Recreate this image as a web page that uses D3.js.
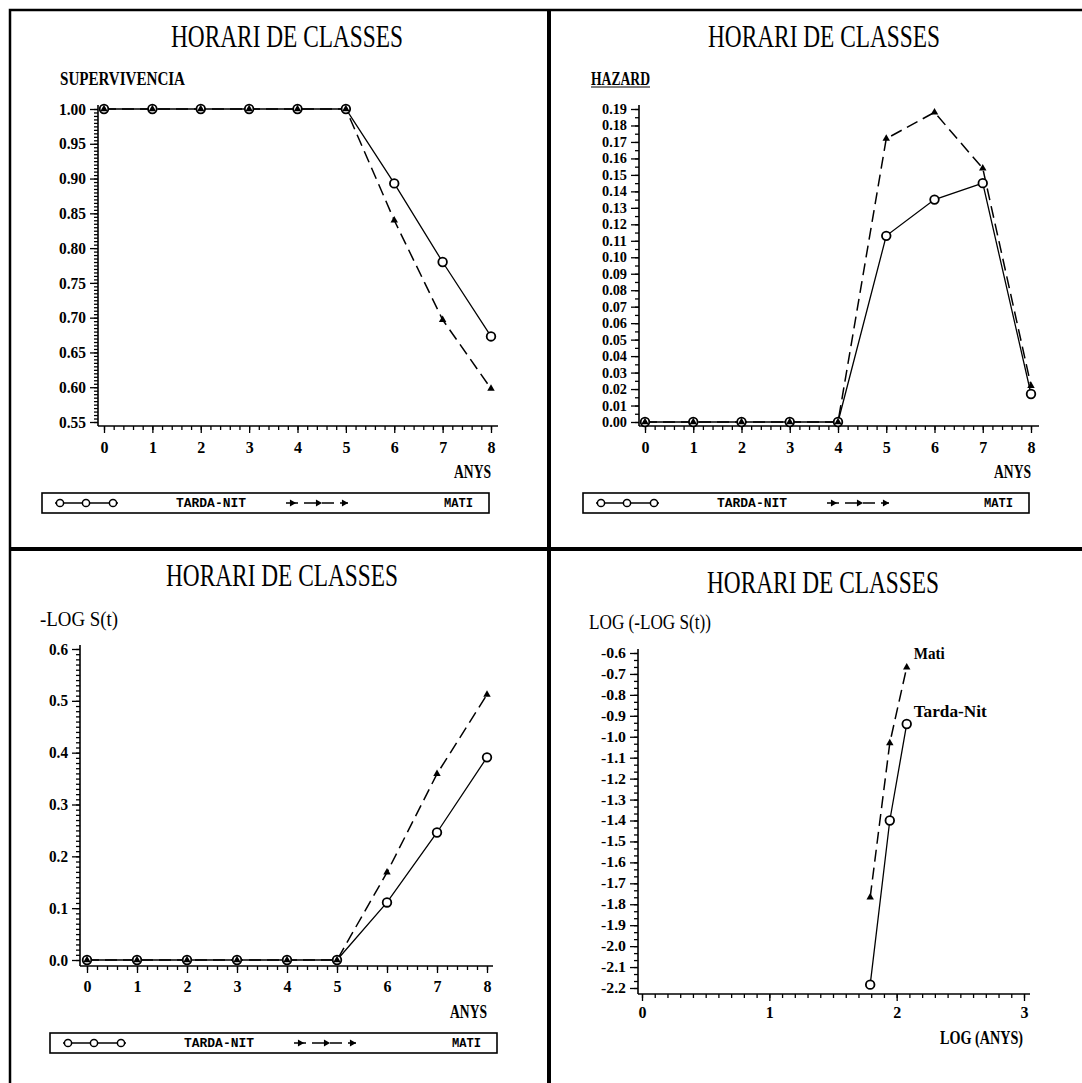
<!DOCTYPE html>
<html>
<head>
<meta charset="utf-8">
<script src="https://cdn.jsdelivr.net/npm/d3@7"></script>
<style>
  body { margin: 0; background: #fff; }
  svg { display: block; }
</style>
</head>
<body>
<script>

// anys
let years = [0, 1, 2, 3, 4, 5, 6, 7, 8]

// supervivencia
let survTarda = [1, 1, 1, 1, 1, 1, 0.893, 0.780, 0.673]
let survMati = [1, 1, 1, 1, 1, 1, 0.840, 0.697, 0.598]
let survTicks = [0.55, 0.60, 0.65, 0.70, 0.75, 0.80, 0.85, 0.90, 0.95, 1.00]

// hazard
let hazTarda = [0, 0, 0, 0, 0, 0.113, 0.135, 0.145, 0.017]
let hazMati = [0, 0, 0, 0, 0, 0.172, 0.188, 0.154, 0.022]
let hazTicks = [0, 0.01, 0.02, 0.03, 0.04, 0.05, 0.06, 0.07, 0.08, 0.09, 0.10,
                0.11, 0.12, 0.13, 0.14, 0.15, 0.16, 0.17, 0.18, 0.19]

// -log S(t)
let cumTarda = [0, 0, 0, 0, 0, 0, 0.111, 0.246, 0.391]
let cumMati = [0, 0, 0, 0, 0, 0, 0.169, 0.359, 0.512]
let cumTicks = [0, 0.1, 0.2, 0.3, 0.4, 0.5, 0.6]

// log(-log S(t)) contra log(anys)
let logYears = [1.792, 1.946, 2.079]
let llTarda = [-2.184, -1.400, -0.939]
let llMati = [-1.767, -1.030, -0.668]
let llTicks = [-2.2, -2.1, -2.0, -1.9, -1.8, -1.7, -1.6, -1.5, -1.4, -1.3, -1.2,
               -1.1, -1.0, -0.9, -0.8, -0.7, -0.6]
let logYearTicks = [0, 1, 2, 3]

let serif = "'Liberation Serif', 'DejaVu Serif', serif"
let mono = "'Liberation Mono', 'DejaVu Sans Mono', monospace"

let svg = d3.select("body").append("svg")
            .attr("width", 1082)
            .attr("height", 1083)

// marcs
svg.append("path")
   .attr("d", "M10,1083 V10 H1082")
   .attr("fill", "none")
   .attr("stroke", "#000")
   .attr("stroke-width", 2.5)
svg.append("line").attr("x1", 549).attr("x2", 549).attr("y1", 10).attr("y2", 1083)
   .attr("stroke", "#000").attr("stroke-width", 4)
svg.append("line").attr("x1", 10).attr("x2", 1082).attr("y1", 549).attr("y2", 549)
   .attr("stroke", "#000").attr("stroke-width", 4)

function minorValues(lo, hi, n) {
  return d3.range(n + 1).map(function(i) { return lo + (hi - lo) * i / n })
}

function minusFormat(spec) {
  let f = d3.format(spec)
  return function(d) { return f(d).replace("\u2212", "-") }
}

function drawPanel(p) {

  let g = svg.append("g")
  let x = d3.scaleLinear().domain(p.xDomain).range(p.xRange)
  let y = d3.scaleLinear().domain(p.yDomain).range(p.yRange)

  g.append("text")
   .attr("x", p.titleX).attr("y", p.titleY)
   .attr("text-anchor", "middle")
   .attr("font-family", serif)
   .attr("font-size", 31)
   .attr("textLength", 232)
   .attr("lengthAdjust", "spacingAndGlyphs")
   .text("HORARI DE CLASSES")

  g.append("text")
   .attr("x", p.yLabel.x).attr("y", p.yLabel.y)
   .attr("font-family", serif)
   .attr("font-size", p.yLabel.size)
   .attr("font-weight", p.yLabel.bold ? "bold" : "normal")
   .attr("textLength", p.yLabel.w)
   .attr("lengthAdjust", "spacingAndGlyphs")
   .text(p.yLabel.text)
  if (p.yLabel.underline) {
    g.append("line")
     .attr("x1", p.yLabel.x).attr("x2", p.yLabel.x + p.yLabel.w)
     .attr("y1", p.yLabel.y + 2).attr("y2", p.yLabel.y + 2)
     .attr("stroke", "#000").attr("stroke-width", 1.2)
  }

  // eix Y
  let ya = g.append("g").attr("transform", "translate(" + p.axisX + ",0)")
  ya.append("g")
    .call(d3.axisLeft(y).tickValues(p.yMinor).tickSize(4).tickFormat(""))
  ya.append("g")
    .call(d3.axisLeft(y).tickValues(p.yTicks).tickSize(8).tickPadding(4).tickFormat(p.yFmt))
  ya.selectAll(".domain").remove()
  ya.selectAll("line").attr("stroke-width", 1.3)
  ya.selectAll("text")
    .attr("font-family", serif)
    .attr("font-weight", "bold")
    .attr("font-size", p.yFont)
    .attr("fill", "#000")
  if (p.yW) {
    ya.selectAll("text")
      .attr("textLength", p.yW)
      .attr("lengthAdjust", "spacingAndGlyphs")
  }
  ya.append("line")
    .attr("x1", 0).attr("x2", 0)
    .attr("y1", p.yRange[1] - 4).attr("y2", p.axisY)
    .attr("stroke", "#000").attr("stroke-width", 1.6)

  // eix X
  let xa = g.append("g").attr("transform", "translate(0," + p.axisY + ")")
  xa.append("g")
    .call(d3.axisBottom(x).tickValues(p.xMinor).tickSize(4).tickFormat(""))
  xa.append("g")
    .call(d3.axisBottom(x).tickValues(p.xTicks).tickSize(7).tickPadding(p.xPad).tickFormat(d3.format("d")))
  xa.selectAll(".domain").remove()
  xa.selectAll("line").attr("stroke-width", 1.3)
  xa.selectAll("text")
    .attr("font-family", serif)
    .attr("font-weight", "bold")
    .attr("font-size", 16)
    .attr("fill", "#000")
  xa.append("line")
    .attr("x1", p.axisX).attr("x2", p.axisEnd)
    .attr("y1", 0).attr("y2", 0)
    .attr("stroke", "#000").attr("stroke-width", 1.6)

  g.append("text")
   .attr("x", p.xLabel.x).attr("y", p.xLabel.y)
   .attr("text-anchor", "end")
   .attr("font-family", serif)
   .attr("font-weight", "bold")
   .attr("font-size", 19)
   .attr("textLength", p.xLabel.w)
   .attr("lengthAdjust", "spacingAndGlyphs")
   .text(p.xLabel.text)

  // series
  let line = d3.line()
               .x(function(d) { return x(d[0]) })
               .y(function(d) { return y(d[1]) })

  let tarda = d3.zip(p.xs, p.tarda)
  let mati = d3.zip(p.xs, p.mati)

  g.append("path")
   .datum(mati)
   .attr("d", line)
   .attr("fill", "none")
   .attr("stroke", "#000")
   .attr("stroke-width", 1.5)
   .attr("stroke-dasharray", "12,6")

  g.append("path")
   .datum(tarda)
   .attr("d", line)
   .attr("fill", "none")
   .attr("stroke", "#000")
   .attr("stroke-width", 1.3)

  g.selectAll(".tardaPt")
   .data(tarda)
   .enter()
   .append("circle")
   .attr("class", "tardaPt")
   .attr("cx", function(d) { return x(d[0]) })
   .attr("cy", function(d) { return y(d[1]) })
   .attr("r", 4.3)
   .attr("fill", "#fff")
   .attr("stroke", "#000")
   .attr("stroke-width", 1.8)

  g.selectAll(".matiPt")
   .data(mati)
   .enter()
   .append("path")
   .attr("class", "matiPt")
   .attr("transform", function(d) { return "translate(" + x(d[0]) + "," + y(d[1]) + ")" })
   .attr("d", d3.symbol(d3.symbolTriangle, 24)())
   .attr("fill", "#000")

  if (p.legend) drawLegend(g, p.legend)

  if (p.endLabels) {
    let lm = mati[mati.length - 1]
    let lt = tarda[tarda.length - 1]
    g.append("text")
     .attr("x", x(lm[0]) + 7).attr("y", y(lm[1]) - 8)
     .attr("font-family", serif).attr("font-weight", "bold").attr("font-size", 16)
     .attr("textLength", 31).attr("lengthAdjust", "spacingAndGlyphs")
     .text("Mati")
    g.append("text")
     .attr("x", x(lt[0]) + 7).attr("y", y(lt[1]) - 7)
     .attr("font-family", serif).attr("font-weight", "bold").attr("font-size", 16)
     .attr("textLength", 73).attr("lengthAdjust", "spacingAndGlyphs")
     .text("Tarda-Nit")
  }
}

function drawLegend(g, L) {

  let lg = g.append("g").attr("transform", "translate(" + L.x + "," + L.y + ")")
  let cy = 10

  lg.append("rect")
    .attr("width", L.w).attr("height", 20)
    .attr("fill", "none").attr("stroke", "#000").attr("stroke-width", 1.6)

  lg.append("line")
    .attr("x1", 13).attr("x2", 76).attr("y1", cy).attr("y2", cy)
    .attr("stroke", "#000").attr("stroke-width", 1.3)
  lg.selectAll(".lc")
    .data([18, 44, 71])
    .enter()
    .append("circle")
    .attr("cx", function(d) { return d })
    .attr("cy", cy)
    .attr("r", 3.6)
    .attr("fill", "#fff").attr("stroke", "#000").attr("stroke-width", 1.5)

  lg.append("text")
    .attr("x", 134).attr("y", cy + 4)
    .attr("font-family", mono).attr("font-weight", "bold").attr("font-size", 12)
    .attr("textLength", 70).attr("lengthAdjust", "spacingAndGlyphs")
    .text("TARDA-NIT")

  lg.append("line")
    .attr("x1", 244).attr("x2", 306).attr("y1", cy).attr("y2", cy)
    .attr("stroke", "#000").attr("stroke-width", 1.3)
    .attr("stroke-dasharray", "12,6")
  lg.selectAll(".lt")
    .data([250, 276, 302])
    .enter()
    .append("path")
    .attr("transform", function(d) { return "translate(" + d + "," + cy + ") rotate(90)" })
    .attr("d", d3.symbol(d3.symbolTriangle, 22)())
    .attr("fill", "#000")

  lg.append("text")
    .attr("x", L.w - 16).attr("y", cy + 4)
    .attr("text-anchor", "end")
    .attr("font-family", mono).attr("font-weight", "bold").attr("font-size", 12)
    .attr("textLength", 29).attr("lengthAdjust", "spacingAndGlyphs")
    .text("MATI")
}

drawPanel({
  titleX: 287, titleY: 47,
  yLabel: {text: "SUPERVIVENCIA", x: 60, y: 85, w: 125, size: 19, bold: true},
  xDomain: [0, 8], xRange: [104, 491],
  yDomain: [0.55, 1.0], yRange: [422, 109],
  axisX: 98, axisY: 426, axisEnd: 498,
  yTicks: survTicks, yMinor: minorValues(0.55, 1.0, 90), yFmt: d3.format(".2f"), yFont: 16, yW: 27,
  xTicks: years, xMinor: minorValues(0, 8, 40), xPad: 9,
  xLabel: {text: "ANYS", x: 491, y: 478, w: 37},
  xs: years, tarda: survTarda, mati: survMati,
  legend: {x: 42, y: 493, w: 447}
})

drawPanel({
  titleX: 824, titleY: 47,
  yLabel: {text: "HAZARD", x: 591, y: 85, w: 59, size: 19, bold: true, underline: true},
  xDomain: [0, 8], xRange: [645, 1031],
  yDomain: [0, 0.19], yRange: [422, 109],
  axisX: 639, axisY: 426, axisEnd: 1039,
  yTicks: hazTicks, yMinor: minorValues(0, 0.19, 38), yFmt: d3.format(".2f"), yFont: 14, yW: 25,
  xTicks: years, xMinor: minorValues(0, 8, 40), xPad: 9,
  xLabel: {text: "ANYS", x: 1031, y: 478, w: 37},
  xs: years, tarda: hazTarda, mati: hazMati,
  legend: {x: 583, y: 493, w: 446}
})

drawPanel({
  titleX: 282, titleY: 586,
  yLabel: {text: "-LOG S(t)", x: 40, y: 626, w: 78, size: 20, bold: false},
  xDomain: [0, 8], xRange: [87, 487],
  yDomain: [0, 0.6], yRange: [960, 649],
  axisX: 80, axisY: 966, axisEnd: 493,
  yTicks: cumTicks, yMinor: minorValues(0, 0.6, 60), yFmt: d3.format(".1f"), yFont: 16, yW: 19,
  xTicks: years, xMinor: minorValues(0, 8, 40), xPad: 8,
  xLabel: {text: "ANYS", x: 487, y: 1018, w: 37},
  xs: years, tarda: cumTarda, mati: cumMati,
  legend: {x: 50, y: 1033, w: 447}
})

drawPanel({
  titleX: 823, titleY: 593,
  yLabel: {text: "LOG (-LOG S(t))", x: 589, y: 629, w: 122, size: 20, bold: false},
  xDomain: [0, 3], xRange: [642, 1024],
  yDomain: [-2.2, -0.6], yRange: [988, 653],
  axisX: 638, axisY: 994, axisEnd: 1030,
  yTicks: llTicks, yMinor: minorValues(-2.2, -0.6, 48), yFmt: minusFormat(".1f"), yFont: 14, yW: 25,
  xTicks: logYearTicks, xMinor: minorValues(0, 3, 30), xPad: 6,
  xLabel: {text: "LOG (ANYS)", x: 1023, y: 1044, w: 83},
  xs: logYears, tarda: llTarda, mati: llMati,
  endLabels: true
})

</script>
</body>
</html>
